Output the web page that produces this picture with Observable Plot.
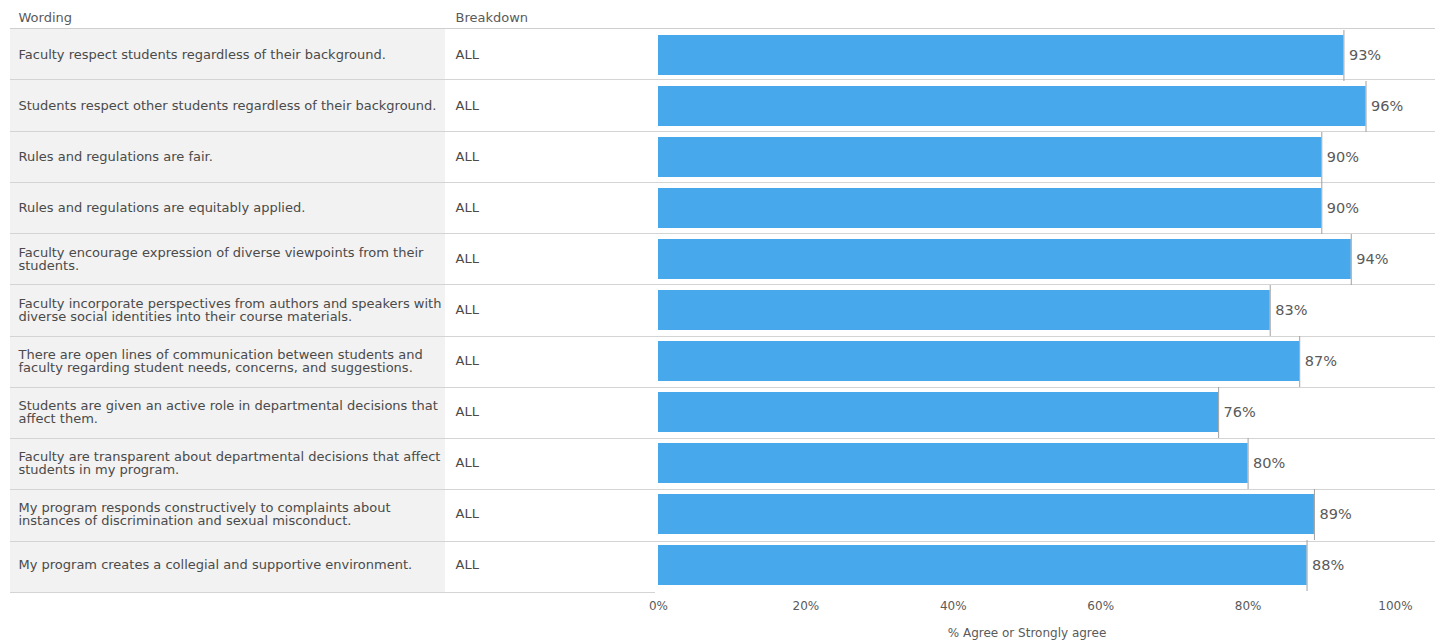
<!DOCTYPE html>
<html>
<head>
<meta charset="utf-8">
<script src="https://cdn.jsdelivr.net/npm/d3@7"></script>
<script src="https://cdn.jsdelivr.net/npm/@observablehq/plot@0.6"></script>
<style>
  html, body { margin: 0; padding: 0; background: #fff; }
  #chart svg { display: block; }
</style>
</head>
<body>
<div id="chart"></div>
<script>
const wording = [
  "Faculty respect students regardless of their background.",
  "Students respect other students regardless of their background.",
  "Rules and regulations are fair.",
  "Rules and regulations are equitably applied.",
  "Faculty encourage expression of diverse viewpoints from their\nstudents.",
  "Faculty incorporate perspectives from authors and speakers with\ndiverse social identities into their course materials.",
  "There are open lines of communication between students and\nfaculty regarding student needs, concerns, and suggestions.",
  "Students are given an active role in departmental decisions that\naffect them.",
  "Faculty are transparent about departmental decisions that affect\nstudents in my program.",
  "My program responds constructively to complaints about\ninstances of discrimination and sexual misconduct.",
  "My program creates a collegial and supportive environment."
];
const breakdown = ["ALL","ALL","ALL","ALL","ALL","ALL","ALL","ALL","ALL","ALL","ALL"];
const values = [93, 96, 90, 90, 94, 83, 87, 76, 80, 89, 88];
const xTicks = [0, 20, 40, 60, 80, 100];
const headers = ["Wording", "Breakdown"];
const xLabel = "% Agree or Strongly agree";

const data = wording.map((w, i) => ({id: i, wording: w, breakdown: breakdown[i], value: values[i]}));
const ids = data.map(d => d.id);

const font = "'DejaVu Sans', Verdana, sans-serif";
const W = 1443, H = 644, mL = 658, mR = 48, mT = 28, mB = 52;

// table backdrop: grey wording column, header rule and row separators
function tableBackdrop(index, scales, values, dim) {
  const g = d3.create("svg:g");
  const top = dim.marginTop, bottom = dim.height - dim.marginBottom;
  const n = ids.length, step = (bottom - top) / n;
  g.append("rect").attr("x", 10).attr("y", top).attr("width", 435).attr("height", bottom - top).attr("fill", "#f2f2f2");
  g.append("line").attr("x1", 10).attr("x2", 1435).attr("y1", top + 0.5).attr("y2", top + 0.5).attr("stroke", "#cfcfcf");
  for (let i = 1; i <= n; i++) {
    const y = Math.round(top + i * step) + 0.5;
    g.append("line").attr("x1", 10).attr("x2", i === n ? 655 : 1435).attr("y1", y).attr("y2", y).attr("stroke", "#d4d4d4");
  }
  return g.node();
}

const chart = Plot.plot({
  width: W,
  height: H,
  marginLeft: mL,
  marginRight: mR,
  marginTop: mT,
  marginBottom: mB,
  style: {fontFamily: font, fontSize: "12px", color: "#5a5a5a", background: "#fff"},
  x: {domain: [0, 100], ticks: xTicks, tickFormat: d => d + "%", tickSize: 0, tickPadding: 9,
      label: xLabel, labelAnchor: "center", labelOffset: 44, labelArrow: "none"},
  y: {domain: ids, padding: 0, axis: null},
  marks: [
    tableBackdrop,
    Plot.barX(data, {x: "value", y: "id", fill: "#48a8ec", insetTop: 5, insetBottom: 6}),
    Plot.tickX(data, {x: "value", y: "id", stroke: "#a0a0a0", strokeWidth: 1}),
    Plot.text(data, {x: "value", y: "id", text: d => d.value + "%", dx: 5, textAnchor: "start",
                     fontSize: 14.5, fill: "#5a5a5a", dy: -1}),
    Plot.text(data, {y: "id", text: "wording", frameAnchor: "left", dx: 18 - mL, textAnchor: "start",
                     fontSize: 13, lineHeight: 1.0, fill: "#4a4a4a", dy: -1}),
    Plot.text(data, {y: "id", text: "breakdown", frameAnchor: "left", dx: 455 - mL, textAnchor: "start",
                     fontSize: 13, fill: "#4a4a4a", dy: -1}),
    Plot.text([headers[0]], {text: d => d, frameAnchor: "top-left", dx: 18 - mL, dy: -11, textAnchor: "start",
                     lineAnchor: "middle", fontSize: 13, fill: "#5a5a5a"}),
    Plot.text([headers[1]], {text: d => d, frameAnchor: "top-left", dx: 455 - mL, dy: -11, textAnchor: "start",
                     lineAnchor: "middle", fontSize: 13, fill: "#5a5a5a"})
  ]
});
document.getElementById("chart").appendChild(chart);
</script>
</body>
</html>
